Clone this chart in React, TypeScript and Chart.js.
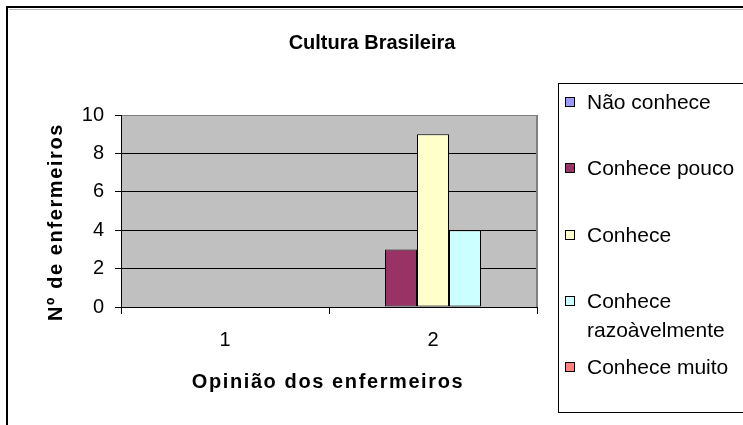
import React, { useEffect, useRef } from 'react';
import { Chart, registerables } from 'chart.js';

Chart.register(...registerables);

const chartTitle = 'Cultura Brasileira';
const xAxisTitle = 'Opinião dos enfermeiros';
const yAxisTitle = 'Nº de enfermeiros';

const categories = ['1', '2'];
const seriesLabels = ['Não conhece', 'Conhece pouco', 'Conhece', 'Conhece razoàvelmente', 'Conhece muito'];
const naoConhece = [0, 0];
const conhecePouco = [0, 3];
const conhece = [0, 9];
const conheceRazoavelmente = [0, 4];
const conheceMuito = [0, 0];
const seriesColors = ['#9999FF', '#993366', '#FFFFCC', '#CCFFFF', '#FF8080'];
const yMin = 0;
const yMax = 10;
const yStep = 2;

const FONT = '"Liberation Sans", Arial, sans-serif';

const decorPlugin = {
  id: 'decor',
  beforeDraw(chart: any) {
    const { ctx, chartArea: a, width, height } = chart;
    ctx.save();
    ctx.fillStyle = '#ffffff';
    ctx.fillRect(0, 0, width, height);
    // outer frame
    ctx.fillStyle = '#000000';
    ctx.fillRect(6, 6, width - 6, 2);
    ctx.fillRect(6, 6, 2, height - 6);
    ctx.fillStyle = '#b8b8b8';
    ctx.fillRect(9, 9, width - 9, 1);
    // plot area
    ctx.fillStyle = '#C0C0C0';
    ctx.fillRect(a.left, a.top, a.right - a.left, a.bottom - a.top);
    ctx.restore();
  },
  afterDraw(chart: any) {
    const { ctx, chartArea: a, width } = chart;
    ctx.save();
    // plot right border
    ctx.fillStyle = '#808080';
    ctx.fillRect(a.right - 1, a.top, 2, a.bottom - a.top);

    // chart title
    ctx.fillStyle = '#000';
    ctx.textAlign = 'center';
    ctx.textBaseline = 'alphabetic';
    ctx.font = `bold 20px ${FONT}`;
    ctx.fillText(chartTitle, 372, 49);

    // x axis title
    (ctx as any).letterSpacing = '1.6px';
    ctx.fillText(xAxisTitle, (a.left + a.right) / 2 - 1, 388);

    // y axis title
    ctx.save();
    ctx.translate(62, 222);
    ctx.rotate(-Math.PI / 2);
    ctx.fillText(yAxisTitle, 0, 0);
    ctx.restore();
    (ctx as any).letterSpacing = '0px';

    // legend box
    ctx.strokeStyle = '#000';
    ctx.lineWidth = 1;
    ctx.strokeRect(558.5, 83.5, 300, 329);

    // legend items
    ctx.font = `21px ${FONT}`;
    ctx.textAlign = 'left';
    const tx = 587;
    const maxW = width - tx - 2;
    chart.data.datasets.forEach((ds: any, i: number) => {
      const by = Math.round(109 + i * 66.3);
      ctx.fillStyle = ds.backgroundColor;
      ctx.fillRect(565, by - 12, 10, 10);
      ctx.strokeStyle = '#000';
      ctx.lineWidth = 1;
      ctx.strokeRect(565.5, by - 11.5, 9, 9);
      const words = String(ds.label).split(' ');
      const lines: string[] = [];
      let cur = '';
      words.forEach((w) => {
        const t = cur ? cur + ' ' + w : w;
        if (ctx.measureText(t).width > maxW && cur) {
          lines.push(cur);
          cur = w;
        } else {
          cur = t;
        }
      });
      if (cur) lines.push(cur);
      ctx.fillStyle = '#000';
      lines.forEach((ln, j) => ctx.fillText(ln, tx, by + j * 29));
    });
    ctx.restore();
  },
};

export default function App() {
  const ref = useRef<HTMLCanvasElement | null>(null);
  useEffect(() => {
    if (!ref.current) return;
    const seriesData = [naoConhece, conhecePouco, conhece, conheceRazoavelmente, conheceMuito];
    const chart = new Chart(ref.current, {
      type: 'bar',
      data: {
        labels: categories,
        datasets: seriesLabels.map((label, i) => ({
          label,
          data: seriesData[i],
          backgroundColor: seriesColors[i],
          borderColor: '#000000',
          borderWidth: 1,
          borderSkipped: false,
          categoryPercentage: 160 / 208,
          barPercentage: 1,
        })),
      },
      options: {
        responsive: false,
        maintainAspectRatio: false,
        animation: false,
        devicePixelRatio: 1,
        layout: { padding: { top: 115, right: 206, left: 0, bottom: 0 } },
        plugins: {
          legend: { display: false },
          title: { display: false },
          tooltip: { enabled: false },
        },
        scales: {
          x: {
            ticks: { color: '#000', font: { size: 20, family: FONT }, padding: 14 },
            grid: {
              drawOnChartArea: false,
              offset: true,
              tickLength: 7,
              color: '#000',
              tickColor: '#000',
            },
            border: { color: '#000', width: 1 },
            afterFit: (s: any) => {
              s.height = 118;
            },
          },
          y: {
            min: yMin,
            max: yMax,
            ticks: { stepSize: yStep, color: '#000', font: { size: 20, family: FONT }, padding: 11 },
            grid: {
              color: (c: any) =>
                c.tick && c.tick.value === yMax ? '#808080' : c.tick && c.tick.value === yMin ? 'rgba(0,0,0,0)' : '#000',
              tickColor: '#000',
              tickLength: 6,
              lineWidth: 1,
            },
            border: { color: '#000', width: 1 },
            afterFit: (s: any) => {
              s.width = 121;
            },
          },
        },
      },
      plugins: [decorPlugin],
    });
    return () => chart.destroy();
  }, []);
  return (
    <div style={{ position: 'absolute', left: 0, top: 0, width: 743, height: 425 }}>
      <canvas ref={ref} width={743} height={425} style={{ display: 'block' }} />
    </div>
  );
}
